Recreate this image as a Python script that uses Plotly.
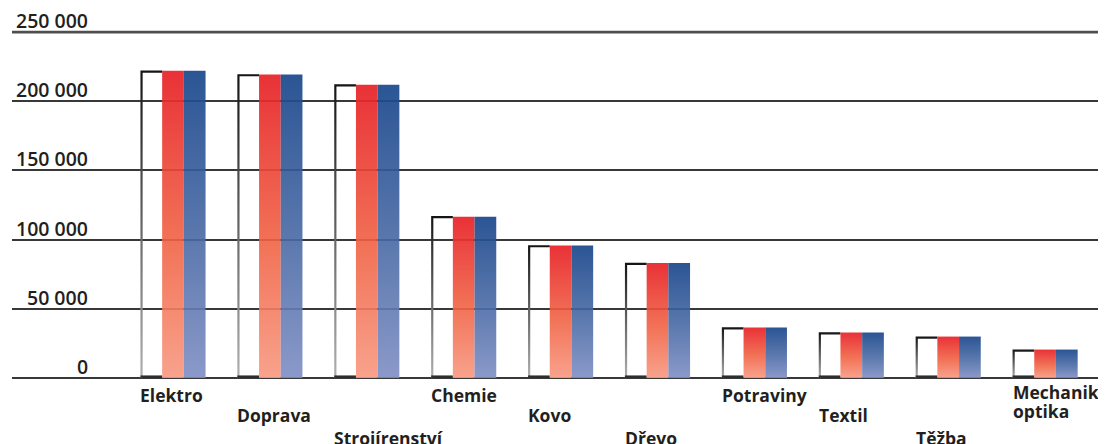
import plotly.graph_objects as go

# ---------------- data ----------------
categories = ["Elektro", "Doprava", "Strojírenství", "Chemie", "Kovo", "Dřevo",
              "Potraviny", "Textil", "Těžba", "Mechanika"]
category_second_line = ["", "", "", "", "", "", "", "", "", "optika"]
label_rows = [0, 1, 2, 0, 1, 2, 0, 1, 2, 0]
series_white = [222200, 219600, 212300, 117000, 96000, 83200, 36600, 33000, 30000, 20600]
series_red = [222000, 219300, 212000, 116600, 95700, 83000, 36400, 32800, 29900, 20500]
series_blue = [222000, 219300, 212000, 116600, 95700, 83000, 36400, 32800, 29900, 20500]
tick_values = [0, 50000, 100000, 150000, 200000, 250000]
tick_labels = ["0", "50 000", "100 000", "150 000", "200 000", "250 000"]

# ---------------- style / layout constants ----------------
PAGE_OFFSET = 8             # default body margin of the html page
W, H = 1106 - PAGE_OFFSET, 444 - PAGE_OFFSET
M_L, M_R, M_T, M_B = 4, 0, 20, 64
X_RANGE = [-1.6615, 9.6285]
Y_RANGE = [-1500, 252980]
BAR_W = 0.224               # width of one bar in category units
OUTLINE_PX_X = 2.2
OUTLINE_PX_Y = 2.2
BOTTOM_PX = 2.5
TICK_LABEL_RIGHT_PX = 82    # right edge of y tick labels, figure pixels

px_per_x = (W - M_L - M_R) / (X_RANGE[1] - X_RANGE[0])
px_per_y = (H - M_T - M_B) / (Y_RANGE[1] - Y_RANGE[0])
dx_out = OUTLINE_PX_X / px_per_x
dy_out = OUTLINE_PX_Y / px_per_y
dy_bottom = BOTTOM_PX / px_per_y

RED_SCALE = [[0, "rgba(248,152,128,0.9)"], [0.45, "rgba(240,98,68,0.9)"], [1, "rgba(231,34,40,0.93)"]]
BLUE_SCALE = [[0, "rgba(126,142,195,0.9)"], [0.5, "rgba(68,102,162,0.9)"], [1, "rgba(27,72,140,0.93)"]]
OUTLINE_SCALE = [[0, "#b0b0b0"], [0.6, "#555555"], [1, "#141414"]]
TEXT_COLOR = "#231f20"
FONT = "Open Sans"

fig = go.Figure()


def rect(x0, x1, y0, y1):
    return [x0, x1, x1, x0, x0], [y0, y0, y1, y1, y0]


for i, cat in enumerate(categories):
    left = i - 1.5 * BAR_W
    # white (outlined) bar: left edge + top edge as one gradient polygon
    v = series_white[i]
    xs = [left, left, left + BAR_W, left + BAR_W, left + dx_out, left + dx_out, left]
    ys = [0, v, v, v - dy_out, v - dy_out, 0, 0]
    fig.add_trace(go.Scatter(x=xs, y=ys, mode="lines", fill="toself",
                             line=dict(width=0), fillgradient=dict(type="vertical", colorscale=OUTLINE_SCALE),
                             hoverinfo="skip", showlegend=False))
    bx, by = rect(left, left + BAR_W, 0, dy_bottom)
    fig.add_trace(go.Scatter(x=bx, y=by, mode="lines", fill="toself", line=dict(width=0),
                             fillcolor="#2e2e2e", hoverinfo="skip", showlegend=False))
    # red bar
    rx, ry = rect(left + BAR_W, left + 2 * BAR_W, 0, series_red[i])
    fig.add_trace(go.Scatter(x=rx, y=ry, mode="lines", fill="toself", line=dict(width=0),
                             fillgradient=dict(type="vertical", colorscale=RED_SCALE),
                             hoverinfo="skip", showlegend=False))
    # blue bar
    ux, uy = rect(left + 2 * BAR_W, left + 3 * BAR_W, 0, series_blue[i])
    fig.add_trace(go.Scatter(x=ux, y=uy, mode="lines", fill="toself", line=dict(width=0),
                             fillgradient=dict(type="vertical", colorscale=BLUE_SCALE),
                             hoverinfo="skip", showlegend=False))

# category labels (staggered rows)
ROW_SHIFT = [-3, -23.5, -46]
for i, cat in enumerate(categories):
    left = i - 1.5 * BAR_W
    shift = ROW_SHIFT[label_rows[i]]
    if category_second_line[i]:
        shift += 2.5
    fig.add_annotation(x=left, y=0, xref="x", yref="y", xanchor="left", yanchor="top",
                       yshift=shift, xshift=-2, text=cat, showarrow=False,
                       font=dict(family=FONT, size=17.5, color=TEXT_COLOR, weight=700))
    if category_second_line[i]:
        fig.add_annotation(x=left, y=0, xref="x", yref="y", xanchor="left", yanchor="top",
                           yshift=shift - 19, xshift=-2, text=category_second_line[i], showarrow=False,
                           font=dict(family=FONT, size=17.5, color=TEXT_COLOR, weight=700))

# y tick labels above the gridlines
for val, lab in zip(tick_values, tick_labels):
    fig.add_annotation(x=(TICK_LABEL_RIGHT_PX - M_L) / (W - M_L - M_R), y=val, xref="paper", yref="y",
                       xanchor="right", yanchor="bottom", yshift=-4, text=lab, showarrow=False,
                       font=dict(family=FONT, size=19.5, color=TEXT_COLOR, weight=600))

# heavier top line
fig.add_shape(type="line", xref="paper", yref="y", x0=0, x1=1, y0=max(tick_values), y1=max(tick_values),
              line=dict(color="#4f4f4f", width=2.6), layer="above")

fig.update_layout(
    width=W, height=H,
    margin=dict(l=M_L, r=M_R, t=M_T, b=M_B),
    paper_bgcolor="white", plot_bgcolor="white",
    xaxis=dict(range=X_RANGE, showgrid=False, zeroline=False, showticklabels=False,
               ticks="", showline=False, fixedrange=True),
    yaxis=dict(range=Y_RANGE, tickvals=tick_values, showticklabels=False, ticks="",
               showgrid=True, gridcolor="#383838", gridwidth=1.5,
               zeroline=True, zerolinecolor="#383838", zerolinewidth=1.6,
               showline=False, fixedrange=True),
)

fig.write_html("out.html")
